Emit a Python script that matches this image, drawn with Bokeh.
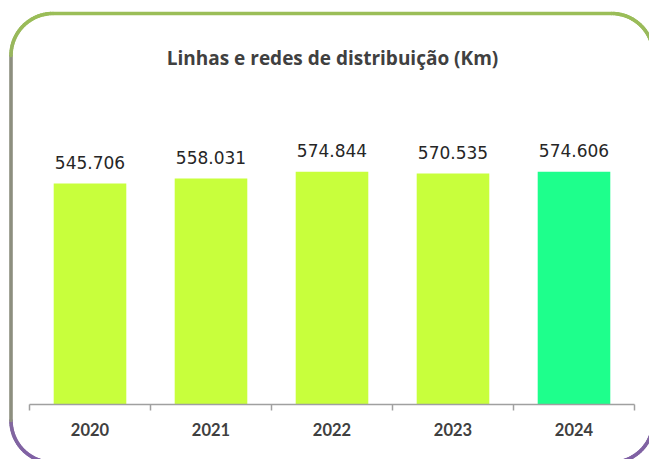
import numpy as np
from bokeh.plotting import figure
from bokeh.models import Range1d, ColumnDataSource
from bokeh.core.properties import value
from bokeh.embed import file_html
from bokeh.resources import INLINE

# ---- data ----
TITLE = "Linhas e redes de distribuição (Km)"
years = ["2020", "2021", "2022", "2023", "2024"]
km = [545706, 558031, 574844, 570535, 574606]
bar_colors = ["#C8FF3C", "#C8FF3C", "#C8FF3C", "#C8FF3C", "#1EFF8C"]

# ---- layout constants (canvas pixels) ----
W, H = 649, 459
PX_PER_CAT = 121.0
FIRST_CENTER_X = 89.5
AXIS_Y = 404.0
PX_PER_UNIT = 0.000405

x_start = -FIRST_CENTER_X / PX_PER_CAT
x_end = x_start + W / PX_PER_CAT
y_start = -(H - AXIS_Y) / PX_PER_UNIT
y_end = AXIS_Y / PX_PER_UNIT

p = figure(width=W, height=H, output_backend="svg", toolbar_location=None,
           x_range=Range1d(x_start, x_end), y_range=Range1d(y_start, y_end),
           x_axis_location=None, y_axis_location=None, min_border=0)
p.extra_x_ranges = {"px": Range1d(0, W)}
p.extra_y_ranges = {"px": Range1d(H, 0)}
p.xgrid.visible = False
p.ygrid.visible = False
p.outline_line_color = None
p.background_fill_color = "white"
p.border_fill_color = "white"

# ---- rounded gradient border ----
def rounded_rect(l, t, r, b, rad, n=28):
    pts = []
    corners = [(r - rad, t + rad, -90, 0), (r - rad, b - rad, 0, 90),
               (l + rad, b - rad, 90, 180), (l + rad, t + rad, 180, 270)]
    for cx, cy, a0, a1 in corners:
        for a in np.linspace(np.radians(a0), np.radians(a1), n):
            pts.append((cx + rad * np.cos(a), cy + rad * np.sin(a)))
    pts.append(pts[0])
    return pts

BT, BB = 13, 462
pts = rounded_rect(10.5, BT, 653, BB, 42)
top_c = np.array([155, 190, 88])
bot_c = np.array([128, 96, 166])
x0s, y0s, x1s, y1s, cols = [], [], [], [], []
for (xa, ya), (xb, yb) in zip(pts[:-1], pts[1:]):
    x0s.append(xa); y0s.append(ya); x1s.append(xb); y1s.append(yb)
    f = min(max(((ya + yb) / 2 - BT) / (BB - BT), 0), 1)
    c = (top_c * (1 - f) + bot_c * f).astype(int)
    cols.append("#%02x%02x%02x" % tuple(c))
p.segment(x0=x0s, y0=y0s, x1=x1s, y1=y1s, line_color=cols, line_width=3.6,
          line_cap="round", x_range_name="px", y_range_name="px")

# ---- bars ----
idx = list(range(len(years)))
labels = [f"{v:,}".replace(",", ".") for v in km]
src = ColumnDataSource(dict(x=idx, top=km, color=bar_colors, label=labels, year=years))
p.vbar(x="x", top="top", bottom=0, width=0.6, fill_color="color", line_color=None, source=src)

# value labels
p.text(x="x", y="top", text="label", source=src, text_align="center",
       text_baseline="middle", y_offset=-21, text_font=value("DejaVu Sans"),
       text_font_size="17px", text_color="#262626")

# ---- x axis (manual) ----
bounds = [i - 0.5 for i in range(len(years) + 1)]
p.segment(x0=[bounds[0]], y0=[0], x1=[bounds[-1]], y1=[0], line_color="#a0a0a0", line_width=1.5)
p.segment(x0=bounds, y0=[AXIS_Y] * len(bounds), x1=bounds, y1=[AXIS_Y + 6] * len(bounds),
          line_color="#a0a0a0", line_width=1.5, y_range_name="px")
p.text(x="x", y=0, text="year", source=src, text_align="center", text_baseline="middle",
       y_offset=25, text_font=value("Lato"), text_font_style="bold",
       text_font_size="16.5px", text_color="#404040")

# ---- title ----
p.text(x=[332], y=[57], text=[TITLE], text_align="center", text_baseline="middle",
       text_font=value("Open Sans"), text_font_style="bold", text_font_size="19px",
       text_color="#404040", x_range_name="px", y_range_name="px")

open("out.html", "w").write(file_html(p, INLINE))
